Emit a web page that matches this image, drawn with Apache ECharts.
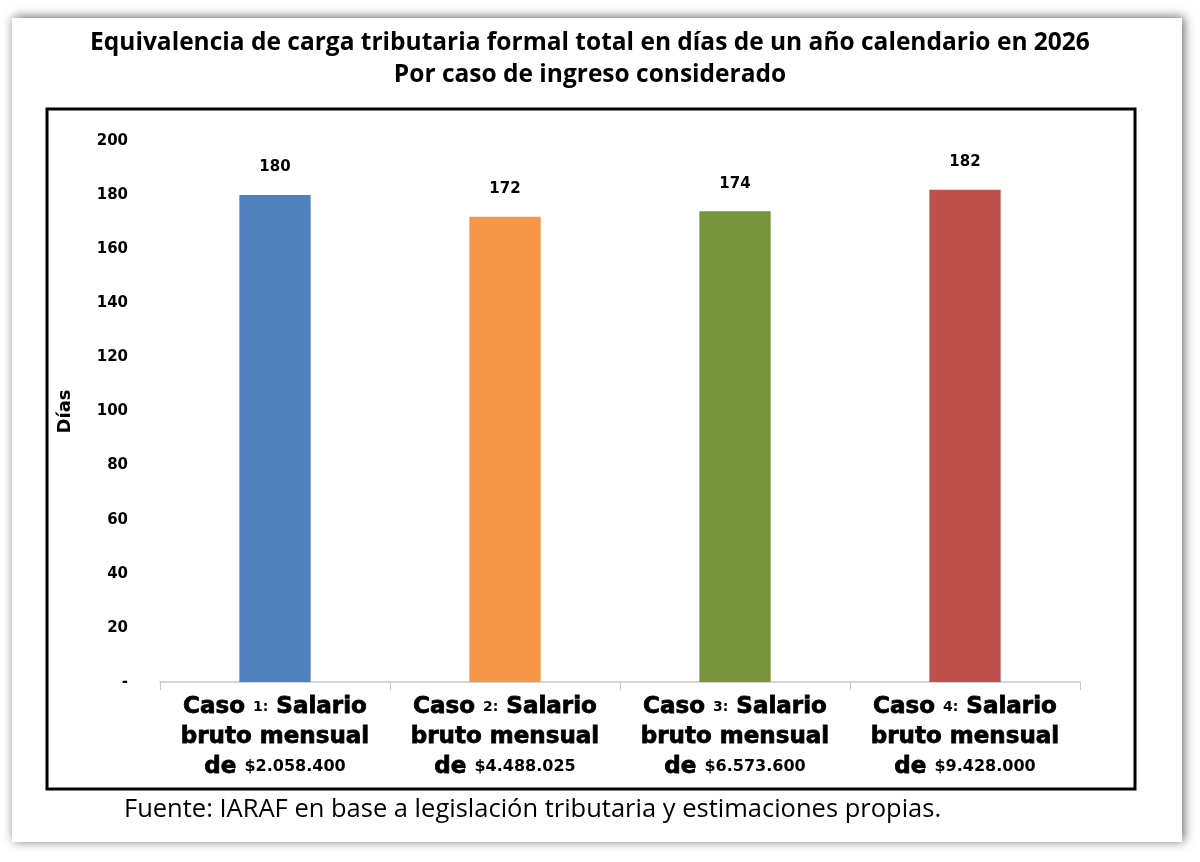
<!DOCTYPE html>
<html><head><meta charset="utf-8">
<script src="https://cdn.jsdelivr.net/npm/echarts@6/dist/echarts.min.js"></script>
<style>html,body{margin:0;padding:0;background:#fff;}#c{width:1200px;height:862px;}</style>
</head><body><div id="c"></div>
<script>
const casos = ['1', '2', '3', '4'];
const salarios = ['$2.058.400', '$4.488.025', '$6.573.600', '$9.428.000'];
const dias = [180, 172, 174, 182];
const colores = ['#4f81bd', '#f79646', '#77933c', '#c0504d'];
const yTicks = { min: 0, max: 200, interval: 20 };

const categories = casos.map((c, i) => '{b|Caso }{s|' + c + ':}{b| Salario}\n{b|bruto mensual}\n{b|de }{m|' + salarios[i] + '}');

const chart = echarts.init(document.getElementById('c'));
chart.setOption({
  backgroundColor: '#fff',
  animation: false,
  graphic: [
    { type: 'rect', z: -10, shape: { x: 12, y: 18, width: 1170, height: 824 },
      style: { fill: '#fff', shadowBlur: 10, shadowColor: 'rgba(0,0,0,0.6)', shadowOffsetX: 2, shadowOffsetY: -1 } },
    { type: 'rect', z: -5, shape: { x: 47, y: 109, width: 1088, height: 680 },
      style: { fill: 'none', stroke: '#000', lineWidth: 3 } },
    { type: 'text', x: 590, y: 27, style: {
      text: 'Equivalencia de carga tributaria formal total en días de un año calendario en 2026\nPor caso de ingreso considerado',
      font: 'bold 24.5px "Open Sans", sans-serif', fill: '#000', textAlign: 'center', lineHeight: 32 } },
    { type: 'text', x: 124, y: 797, style: {
      text: 'Fuente: IARAF en base a legislación tributaria y estimaciones propias.',
      font: '25.5px "Open Sans", sans-serif', fill: '#000' } }
  ],
  grid: { left: 160, right: 120, top: 141, bottom: 180 },
  xAxis: {
    type: 'category', data: categories,
    axisLine: { lineStyle: { color: '#c8c8c8', width: 1.5 } },
    axisTick: { show: true, length: 8, lineStyle: { color: '#c8c8c8' } },
    axisLabel: { interval: 0, margin: 10, lineHeight: 30,
      rich: {
        b: { fontFamily: '"DejaVu Sans", sans-serif', fontWeight: 'bold', fontSize: 23, color: '#000', lineHeight: 30, textBorderColor: '#000', textBorderWidth: 0.8 },
        s: { fontFamily: '"DejaVu Sans", sans-serif', fontWeight: 'bold', fontSize: 14, color: '#000', lineHeight: 30 },
        m: { fontFamily: '"DejaVu Sans", sans-serif', fontWeight: 'bold', fontSize: 16, color: '#000', lineHeight: 30 }
      } }
  },
  yAxis: {
    type: 'value', min: yTicks.min, max: yTicks.max, interval: yTicks.interval,
    name: 'Días', nameLocation: 'middle', nameGap: 86, nameRotate: 90,
    nameTextStyle: { fontFamily: '"DejaVu Sans", sans-serif', fontWeight: 'bold', fontSize: 18, color: '#000' },
    axisLine: { show: false }, axisTick: { show: false }, splitLine: { show: false },
    axisLabel: { margin: 32, fontFamily: '"DejaVu Sans", sans-serif', fontWeight: 'bold', fontSize: 15, color: '#000',
      formatter: v => v === 0 ? '-' : String(v) }
  },
  series: [{
    type: 'bar', barWidth: '31%',
    data: dias.map((v, i) => ({ value: v, itemStyle: { color: colores[i] } })),
    label: { show: true, position: 'top', distance: 20, fontFamily: '"DejaVu Sans", sans-serif', fontWeight: 'bold', fontSize: 15, color: '#000' }
  }]
});
</script></body></html>
